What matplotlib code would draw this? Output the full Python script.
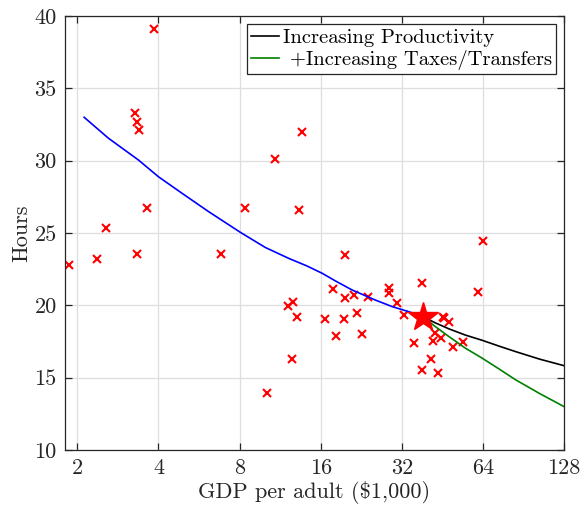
import matplotlib
matplotlib.use("Agg")
import matplotlib.pyplot as plt

plt.rcParams['font.family'] = 'serif'
plt.rcParams['font.serif'] = ['cmr10']
plt.rcParams['mathtext.fontset'] = 'cm'
plt.rcParams['axes.formatter.use_mathtext'] = True
plt.rcParams['axes.unicode_minus'] = False

# Datos por pais: PIB por adulto (miles de $) y horas
pais_gdp = [1.87, 2.37, 2.56, 3.27, 3.33, 3.38, 3.33, 3.63, 3.86, 6.82, 8.35,
            10.11, 10.8, 12.1, 12.59, 12.55, 13.03, 13.33, 13.64, 16.55, 17.73,
            18.3, 19.5, 19.64, 19.7, 21.2, 21.9, 22.7, 24.0, 28.6, 28.7, 30.7,
            32.5, 35.4, 38.0, 38.0, 41.2, 41.8, 42.6, 43.6, 44.9, 45.5, 46.0,
            48.1, 49.6, 53.9, 61.5, 64.0]
pais_horas = [22.81, 23.2, 25.33, 33.3, 32.67, 32.12, 23.55, 26.71, 39.12, 23.55,
              26.71, 13.97, 30.14, 19.98, 20.21, 16.3, 19.22, 26.58, 31.96, 19.07,
              21.11, 17.89, 19.04, 23.5, 20.49, 20.72, 19.47, 18.02, 20.58, 20.84,
              21.18, 20.19, 19.34, 17.42, 21.57, 15.54, 16.32, 17.56, 18.11, 15.29,
              17.73, 19.2, 19.1, 18.88, 17.1, 17.49, 20.93, 24.45]

# Modelo calibrado (linea azul)
modelo_gdp = [2.12, 2.61, 3.37, 4.0, 4.89, 6.14, 8.05, 9.97, 12.17, 14.24,
              16.19, 18.14, 20.94, 25.5, 29.5, 34.0, 38.3]
modelo_horas = [33.0, 31.55, 30.05, 28.89, 27.75, 26.48, 25.05, 24.0, 23.25,
                22.72, 22.22, 21.69, 21.06, 20.37, 19.91, 19.56, 19.22]

# Punto de referencia (estrella)
ref_gdp = 38.3
ref_horas = 19.22

# Extrapolaciones
proy_gdp = [38.3, 42.5, 47.8, 55, 63.7, 73.5, 84.7, 104, 128]
proy_horas_prod = [19.22, 18.8, 18.38, 17.95, 17.58, 17.18, 16.8, 16.28, 15.83]
proy_horas_tax = [19.22, 18.55, 17.85, 17.05, 16.34, 15.6, 14.85, 13.9, 13.0]

x_ticks = [2, 4, 8, 16, 32, 64, 128]
y_ticks = [10, 15, 20, 25, 30, 35, 40]

gris = (0.15, 0.15, 0.15)

fig = plt.figure(figsize=(5.84, 5.07), dpi=100)
ax = fig.add_axes([0.1113, 0.1124, 0.8545, 0.856])

ax.plot(pais_gdp, pais_horas, 'x', color='red', markersize=5.5, markeredgewidth=1.5)
ax.plot(modelo_gdp, modelo_horas, color='blue', linewidth=1.2)
ax.plot(proy_gdp, proy_horas_prod, color='black', linewidth=1.2,
        label='Increasing Productivity')
ax.plot(proy_gdp, proy_horas_tax, color='green', linewidth=1.2,
        label=' +Increasing Taxes/Transfers')
ax.plot([ref_gdp], [ref_horas], '*', color='red', markersize=22, zorder=5)

ax.set_xscale('log', base=2)
ax.set_xlim(1.8, 128)
ax.set_ylim(10, 40)
ax.set_xticks(x_ticks)
ax.set_xticklabels([str(t) for t in x_ticks])
ax.minorticks_off()
ax.set_yticks(y_ticks)
ax.set_yticklabels([str(t) for t in y_ticks])

ax.grid(True, color=(0.87, 0.87, 0.87), linewidth=0.9)
ax.set_axisbelow(True)
ax.tick_params(direction='in', top=True, right=True, length=5, width=0.9,
               colors=gris, labelsize=16, pad=6)
for s in ax.spines.values():
    s.set_color(gris)
    s.set_linewidth(0.9)

ax.set_xlabel(r'GDP per adult (\$1,000)', fontsize=16, color=gris, labelpad=2)
ax.set_ylabel('Hours', fontsize=16, color=gris, labelpad=2)

leg = ax.legend(loc='upper right', fontsize=14.8, handlelength=1.4,
                handletextpad=0.15, borderpad=0.2, borderaxespad=0.4,
                labelspacing=0.15, fancybox=False, framealpha=1)
leg.get_frame().set_edgecolor(gris)
leg.get_frame().set_linewidth(0.9)

plt.savefig('out.png', dpi=100)
